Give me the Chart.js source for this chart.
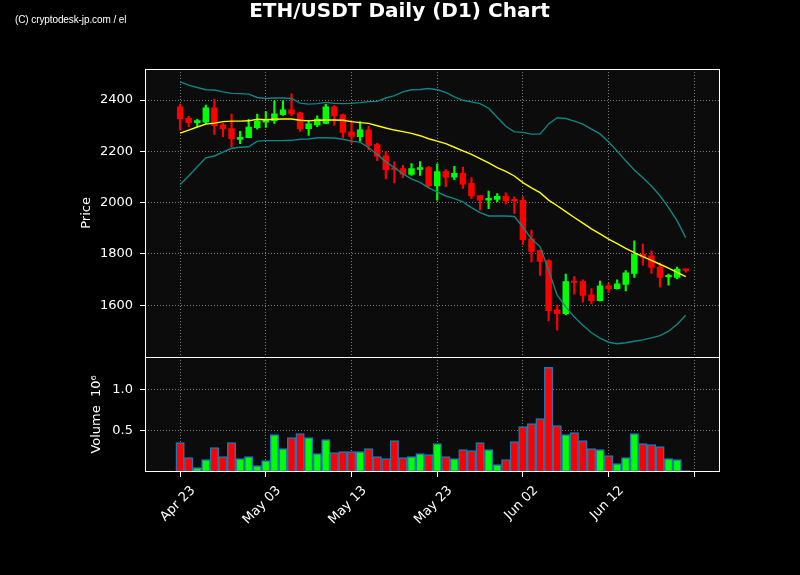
<!DOCTYPE html>
<html>
<head>
<meta charset="utf-8">
<script src="https://cdn.jsdelivr.net/npm/chart.js@4.4.1/dist/chart.umd.min.js"></script>
<style>
  body { margin: 0; background: #000; }
  #wrap { position: relative; width: 800px; height: 575px; }
  #credit { position: absolute; left: 15px; top: 14px; color: #fff; font: 10px 'Liberation Sans', Arial, sans-serif; letter-spacing: -0.1px; }
</style>
</head>
<body>
<div id="wrap">
  <canvas id="chart" width="800" height="575"></canvas>
  <div id="credit">(C) cryptodesk-jp.com / el</div>
</div>
<script>
// daily candles, Apr 23 .. Jun 21
const dates = [
  'Apr 23','Apr 24','Apr 25','Apr 26','Apr 27','Apr 28','Apr 29','Apr 30',
  'May 01','May 02','May 03','May 04','May 05','May 06','May 07','May 08','May 09','May 10',
  'May 11','May 12','May 13','May 14','May 15','May 16','May 17','May 18','May 19','May 20',
  'May 21','May 22','May 23','May 24','May 25','May 26','May 27','May 28','May 29','May 30','May 31',
  'Jun 01','Jun 02','Jun 03','Jun 04','Jun 05','Jun 06','Jun 07','Jun 08','Jun 09','Jun 10',
  'Jun 11','Jun 12','Jun 13','Jun 14','Jun 15','Jun 16','Jun 17','Jun 18','Jun 19','Jun 20','Jun 21'
];
const opens = [
  2374,2330,2312,2314,2370,2303,2289,2247,2253,2292,
  2314,2320,2343,2362,2350,2288,2303,2309,2374,2342,
  2276,2257,2284,2226,2183,2133,2133,2110,2130,2137,
  2065,2121,2099,2114,2075,2028,2010,2013,2025,2009,
  2009,1859,1813,1774,1582,1567,1692,1692,1641,1618,
  1676,1665,1681,1724,1799,1793,1749,1711,1709,1741
];
const highs = [
  2384,2337,2325,2380,2404,2309,2345,2278,2325,2345,
  2355,2397,2397,2424,2353,2320,2338,2383,2378,2345,
  2320,2316,2299,2232,2200,2159,2146,2152,2160,2142,
  2151,2129,2142,2139,2097,2028,2045,2035,2038,2023,
  2024,1893,1815,1778,1601,1722,1712,1699,1665,1694,
  1686,1699,1735,1851,1839,1812,1765,1722,1749,1741
];
const lows = [
  2283,2296,2296,2307,2266,2257,2217,2230,2253,2286,
  2293,2309,2340,2338,2278,2262,2296,2307,2301,2254,
  2232,2239,2206,2164,2093,2077,2097,2106,2106,2058,
  2010,2062,2090,2056,2016,1972,1977,2004,1994,1958,
  1837,1769,1716,1539,1503,1562,1643,1612,1605,1616,
  1650,1663,1656,1709,1756,1724,1671,1678,1703,1729
];
const closes = [
  2326,2312,2320,2370,2300,2288,2249,2255,2295,2318,
  2325,2346,2362,2346,2287,2307,2326,2374,2338,2274,
  2258,2284,2223,2181,2129,2130,2111,2133,2137,2065,
  2121,2099,2114,2072,2026,2010,2017,2025,2007,2007,
  1856,1810,1771,1579,1567,1692,1689,1638,1618,1676,
  1665,1684,1727,1799,1788,1748,1709,1714,1741,1736
];
// volume in millions
const volumes = [
  0.356,0.174,0.053,0.150,0.296,0.186,0.356,0.162,0.186,0.077,
  0.138,0.453,0.283,0.417,0.466,0.417,0.223,0.393,0.235,0.247,
  0.247,0.247,0.283,0.186,0.162,0.381,0.174,0.186,0.223,0.211,
  0.344,0.186,0.162,0.271,0.259,0.356,0.271,0.089,0.150,0.368,
  0.551,0.587,0.648,1.267,0.563,0.453,0.478,0.381,0.283,0.271,
  0.198,0.101,0.174,0.466,0.344,0.332,0.308,0.162,0.150,0.016
];
// moving average and bands
const ma = [
  2271,2283,2295,2306,2310,2316,2318,2318,2319,2325,
  2323,2325,2326,2326,2321,2319,2321,2322,2322,2321,
  2316,2312,2309,2300,2291,2283,2277,2270,2261,2249,
  2240,2230,2216,2202,2188,2172,2155,2137,2122,2104,
  2078,2058,2039,2010,1988,1965,1942,1920,1898,1878,
  1858,1840,1822,1805,1790,1775,1760,1745,1728,1712
];
const bandUpper = [
  2471,2458,2449,2440,2439,2432,2426,2425,2423,2410,
  2406,2408,2408,2406,2388,2384,2386,2391,2387,2386,
  2387,2390,2394,2395,2408,2417,2432,2440,2441,2445,
  2440,2430,2412,2399,2393,2386,2368,2333,2298,2276,
  2274,2267,2267,2307,2331,2328,2318,2306,2287,2268,
  2236,2201,2163,2127,2097,2065,2027,1981,1929,1864
];
const bandLower = [
  2071,2104,2140,2175,2182,2197,2212,2216,2218,2240,
  2242,2242,2242,2243,2247,2248,2253,2253,2252,2247,
  2240,2236,2214,2188,2160,2136,2112,2093,2079,2058,
  2042,2026,2016,2003,1981,1961,1948,1948,1948,1946,
  1905,1858,1829,1737,1639,1594,1554,1522,1493,1472,
  1456,1450,1454,1460,1465,1473,1482,1499,1526,1561
];
const tickDays = [0, 10, 20, 30, 40, 50, 60];
const tickLabels = ['Apr 23', 'May 03', 'May 13', 'May 23', 'Jun 02', 'Jun 12', ''];
const priceTicks = [1600, 1800, 2000, 2200, 2400];
const volumeTicks = [0.5, 1.0];

const up = '#00ff00', down = '#ff0000';
const candleColors = dates.map((d, i) => closes[i] >= opens[i] ? up : down);
const xy = arr => arr.map((v, i) => ({x: i, y: v}));
const gridColor = 'rgba(190,190,190,0.8)';

Chart.defaults.font.family = "'DejaVu Sans', sans-serif";
Chart.defaults.font.size = 13;
Chart.defaults.color = '#fff';

const panels = {
  id: 'panels',
  beforeDraw(chart) {
    const {ctx, chartArea: a} = chart;
    ctx.save();
    ctx.fillStyle = '#000';
    ctx.fillRect(0, 0, chart.width, chart.height);
    ctx.fillStyle = '#0c0c0c';
    ctx.fillRect(a.left, a.top, a.width, a.height);
    ctx.restore();
  },
  afterDraw(chart) {
    const {ctx, chartArea: a, scales} = chart;
    const sep = Math.round(scales.y.bottom) + 0.5;
    ctx.save();
    ctx.strokeStyle = '#fff';
    ctx.lineWidth = 1;
    ctx.strokeRect(Math.round(a.left) + 0.5, Math.round(a.top) + 0.5, Math.round(a.width) - 1, Math.round(a.height) - 1);
    ctx.beginPath();
    ctx.moveTo(a.left, sep);
    ctx.lineTo(a.right, sep);
    ctx.stroke();
    ctx.restore();
  }
};

const lineSet = (label, values, color) => ({
  type: 'line', label, data: xy(values), borderColor: color, borderWidth: 1.4,
  pointRadius: 0, tension: 0, yAxisID: 'y'
});

new Chart(document.getElementById('chart'), {
  type: 'line',
  data: {
    datasets: [
      lineSet('MA', ma, '#ffff00'),
      lineSet('Upper', bandUpper, '#0f8585'),
      lineSet('Lower', bandLower, '#0f8585'),
      {
        type: 'bar', label: 'Body',
        data: opens.map((o, i) => ({x: i, y: [o, closes[i]]})),
        backgroundColor: candleColors, grouped: false,
        barThickness: 5.8, minBarLength: 1.5, yAxisID: 'y'
      },
      {
        type: 'bar', label: 'Wick',
        data: lows.map((l, i) => ({x: i, y: [l, highs[i]]})),
        backgroundColor: candleColors, grouped: false, barThickness: 1.5, yAxisID: 'y'
      },
      {
        type: 'bar', label: 'Volume', data: xy(volumes),
        backgroundColor: candleColors, borderColor: '#1f77b4', borderWidth: 1.5, borderSkipped: false,
        grouped: false, barThickness: 8.5, yAxisID: 'yv'
      }
    ]
  },
  options: {
    responsive: false,
    animation: false,
    devicePixelRatio: 1,
    layout: { padding: { left: 79, right: 80, top: 0, bottom: 0 } },
    plugins: {
      legend: { display: false },
      tooltip: { enabled: false },
      title: {
        display: true,
        text: 'ETH/USDT Daily (D1) Chart',
        color: '#fff',
        font: { size: 20, weight: 'bold' },
        padding: { top: 0, bottom: 45 }
      }
    },
    scales: {
      x: {
        type: 'linear', min: -4.1, max: 63.0, offset: false,
        afterBuildTicks: s => { s.ticks = tickDays.map(v => ({value: v})); },
        afterFit: s => { s.height = 103; },
        grid: { offset: false, color: gridColor, lineWidth: 0.8, tickColor: '#fff', tickLength: 5, tickWidth: 1 },
        border: { display: false, dash: [1, 2] },
        ticks: {
          autoSkip: false, minRotation: 45, maxRotation: 45, labelOffset: 13, padding: 6,
          callback: (v, i) => tickLabels[i]
        }
      },
      yv: {
        type: 'linear', position: 'left', stack: 'panes', stackWeight: 1,
        min: 0, max: 1.394,
        afterBuildTicks: s => { s.ticks = volumeTicks.map(v => ({value: v})); },
        afterFit: s => { s.width = 66; },
        grid: { color: gridColor, lineWidth: 0.8, tickColor: '#fff', tickLength: 5, tickWidth: 1 },
        border: { display: false, dash: [1, 2] },
        ticks: { padding: 7, callback: v => v.toFixed(1) },
        title: { display: true, text: 'Volume  10\u2076', padding: { top: 10, bottom: 0 } }
      },
      y: {
        type: 'linear', position: 'left', stack: 'panes', stackWeight: 2.5,
        min: 1399, max: 2521,
        afterBuildTicks: s => { s.ticks = priceTicks.map(v => ({value: v})); },
        afterFit: s => { s.width = 66; },
        grid: { color: gridColor, lineWidth: 0.8, tickColor: '#fff', tickLength: 5, tickWidth: 1 },
        border: { display: false, dash: [1, 2] },
        ticks: { padding: 7, callback: v => String(v) },
        title: { display: true, text: 'Price', padding: { top: 0, bottom: 0 } }
      }
    }
  },
  plugins: [panels]
});
</script>
</body>
</html>
